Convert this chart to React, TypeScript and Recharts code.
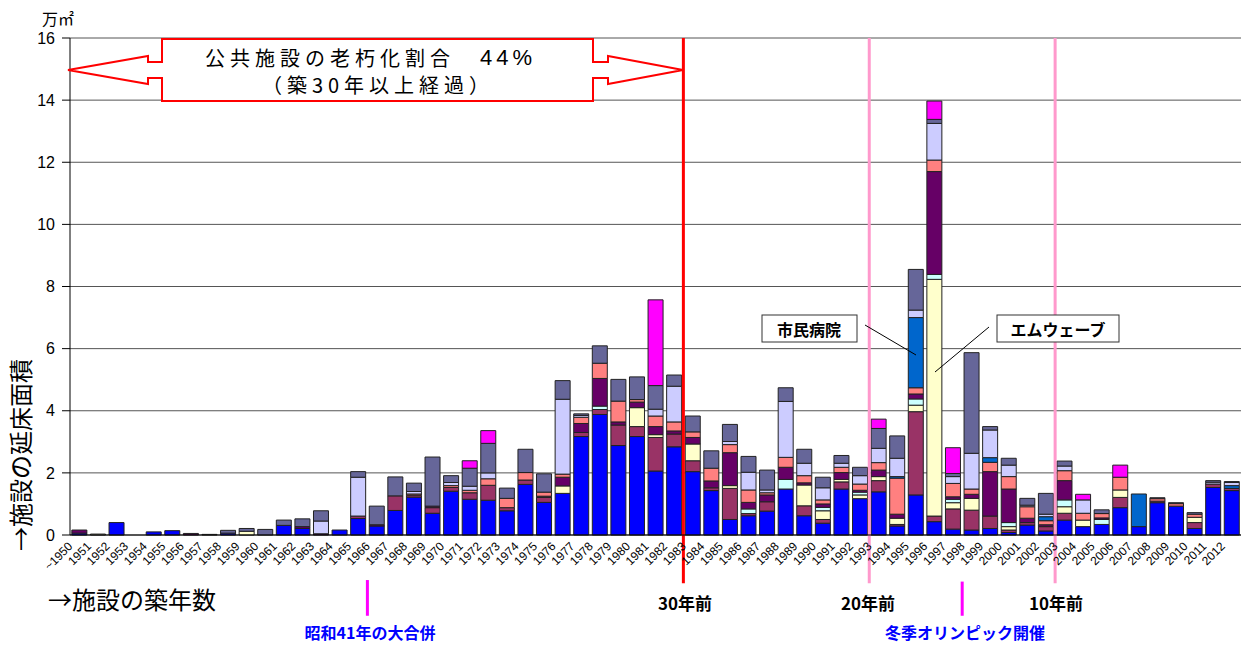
import React from 'react';
import { BarChart, Bar, XAxis, YAxis, CartesianGrid, ReferenceLine } from 'recharts';

const years = [
  '~1950', '1951', '1952', '1953', '1954', '1955', '1956', '1957', '1958', '1959',
  '1960', '1961', '1962', '1963', '1964', '1965', '1966', '1967', '1968', '1969',
  '1970', '1971', '1972', '1973', '1974', '1975', '1976', '1977', '1978', '1979',
  '1980', '1981', '1982', '1983', '1984', '1985', '1986', '1987', '1988', '1989',
  '1990', '1991', '1992', '1993', '1994', '1995', '1996', '1997', '1998', '1999',
  '2000', '2001', '2002', '2003', '2004', '2005', '2006', '2007', '2008', '2009',
  '2010', '2011', '2012',
];

// 万㎡, stacked bottom -> top
const blue = [
  .06, 0, .4, 0, .1, .14, 0, 0, .06, 0,
  0, .31, .21, 0, .16, .53, .29, .79, 1.22, .7,
  1.41, 1.15, 1.12, .78, 1.63, 1.05, 1.34, 3.17, 3.88, 2.88,
  3.17, 2.06, 2.84, 2.04, 1.43, .5, .62, .77, 1.48, .62,
  .38, 1.48, 1.17, 1.39, .29, 1.29, .43, .19, .16, .21,
  .08, .32, .13, .48, .27, .34, .88, .27, 1.04, .93,
  .21, 1.53, 1.43,
];
const maroon = [
  0, 0, 0, 0, 0, 0, 0, 0, 0, 0,
  0, 0, 0, 0, 0, .08, 0, .47, .06, .18,
  .12, .21, .48, .1, .14, .16, 0, .13, .16, .66,
  .32, 1.08, .41, .35, .09, 1.0, .07, .3, 0, .32,
  .12, .23, 0, .36, .05, 2.68, .18, .65, .64, .4,
  .08, .08, .14, .22, 0, 0, .33, 0, .05, 0,
  .19, .11, .07,
];
const cream = [
  0, .03, 0, 0, 0, 0, 0, .02, 0, .12,
  0, 0, 0, 0, 0, 0, 0, 0, 0, 0,
  0, 0, 0, 0, 0, 0, .24, 0, 0, 0,
  .61, .09, 0, .54, 0, .09, 0, 0, 0, .67,
  .28, .08, .12, .13, .2, .21, 7.62, .2, .38, 0,
  .11, 0, 0, .21, .21, 0, .24, 0, 0, 0,
  .17, 0, 0,
];
const cyan = [
  0, 0, 0, 0, 0, 0, 0, 0, 0, 0,
  0, 0, 0, 0, 0, 0, 0, 0, 0, 0,
  0, 0, 0, 0, 0, 0, 0, 0, .11, 0,
  0, 0, 0, 0, 0, 0, .15, 0, .31, 0,
  .11, 0, .09, 0, 0, .2, .16, .11, 0, 0,
  .13, 0, 0, .22, 0, .16, 0, 0, 0, 0,
  0, 0, 0,
];
const purple = [
  .1, 0, 0, 0, 0, 0, .05, 0, 0, 0,
  0, 0, .06, .04, 0, 0, .04, 0, 0, .05,
  0, 0, 0, 0, 0, .04, .28, .29, .89, .1,
  .18, .26, .1, .21, .22, 1.06, .21, .22, .39, .07,
  .11, .22, .06, .21, .13, .16, 3.31, .08, .13, 1.43,
  1.08, .14, .06, .62, 0, .05, 0, 0, 0, 0,
  0, 0, 0,
];
const salmon = [
  0, 0, 0, 0, 0, 0, 0, 0, 0, 0,
  0, 0, 0, 0, 0, 0, 0, 0, .04, 0,
  .06, .08, .21, .3, .24, .13, .1, .2, .49, .67,
  .08, .34, .29, .18, .41, .26, .4, .07, .32, .23,
  .13, .17, .2, .24, 1.16, .2, .37, .43, .17, .3,
  .4, .37, .13, .32, .22, .14, .41, 0, .08, .08,
  .1, 0, 0,
];
const midBlue = [
  0, 0, 0, 0, 0, 0, 0, 0, 0, 0,
  0, 0, 0, 0, 0, 0, 0, 0, 0, 0,
  0, 0, 0, 0, 0, 0, 0, 0, 0, 0,
  0, 0, 0, 0, 0, 0, 0, 0, 0, 0,
  0, 0, 0, 0, .05, 2.26, 0, 0, 0, .15,
  0, 0, .13, 0, 0, 0, 0, 1.05, 0, 0,
  0, 0, .09,
];
const lavender = [
  0, 0, 0, 0, 0, 0, 0, 0, 0, 0,
  0, 0, 0, .41, 0, 1.25, 0, 0, .08, 0,
  .1, .13, .19, 0, 0, 0, 2.41, .06, 0, 0,
  0, .22, 1.15, 0, 0, .1, .57, .09, 1.8, .4,
  .39, .13, .27, .46, .59, .24, 1.18, .22, 1.15, .89,
  .37, .05, .08, .15, .43, 0, 0, 0, 0, 0,
  0, .06, .1,
];
const slate = [
  0, 0, 0, 0, 0, 0, 0, 0, .09, .09,
  .18, .17, .25, .33, 0, .18, .6, .61, .27, 1.58,
  .22, .58, .95, .33, .75, .59, .6, .05, .56, .7,
  .73, .76, .36, .51, .56, .55, .51, .64, .44, .45,
  .34, .25, .27, .64, .72, 1.31, .13, .1, 3.24, .11,
  .22, .22, .67, .16, 0, .12, 0, 0, .03, .03,
  .05, .05, .03,
];
const magenta = [
  0, 0, 0, 0, 0, 0, 0, 0, 0, 0,
  0, 0, 0, 0, 0, 0, 0, 0, 0, 0,
  0, .24, .41, 0, 0, 0, 0, 0, 0, 0,
  0, 2.76, 0, 0, 0, 0, 0, 0, 0, 0,
  0, 0, 0, .3, 0, 0, .59, .83, 0, 0,
  0, 0, 0, 0, .18, 0, .39, 0, 0, 0,
  0, 0, 0,
];

const yTicks = [0, 2, 4, 6, 8, 10, 12, 14, 16];

const series = [
  { key: 'blue', data: blue, color: '#0000FF' },
  { key: 'maroon', data: maroon, color: '#993366' },
  { key: 'cream', data: cream, color: '#FFFFCC' },
  { key: 'cyan', data: cyan, color: '#CCFFFF' },
  { key: 'purple', data: purple, color: '#660066' },
  { key: 'salmon', data: salmon, color: '#FF8080' },
  { key: 'midBlue', data: midBlue, color: '#0066CC' },
  { key: 'lavender', data: lavender, color: '#CCCCFF' },
  { key: 'slate', data: slate, color: '#666699' },
  { key: 'magenta', data: magenta, color: '#FF00FF' },
];

const rows = years.map((year, i) => {
  const row: Record<string, string | number> = { year };
  series.forEach((s) => { row[s.key] = s.data[i]; });
  return row;
});

const NUM = '"Liberation Sans", Arial, sans-serif';
const JP = '"Noto Sans CJK JP", sans-serif';

const YearTick = (props: any) => {
  const { x, y, payload } = props;
  const ax = x - 6;
  const ay = y + 4;
  return (
    <text x={ax} y={ay} transform={`rotate(-45 ${ax} ${ay})`} textAnchor="end"
      fontSize={12} fontFamily={NUM} fill="#000">
      {payload.value}
    </text>
  );
};

export default function App() {
  return (
    <div style={{ position: 'absolute', left: 0, top: 0, width: 1242, height: 646, background: '#fff' }}>
      <BarChart width={1242} height={646} data={rows}
        margin={{ top: 38, right: 1, left: 0, bottom: 71 }}>
        <CartesianGrid horizontal vertical={false} stroke="#555" />
        <XAxis dataKey="year" interval={0} height={40} tick={<YearTick />}
          tickLine={false} axisLine={{ stroke: '#000' }} />
        <YAxis domain={[0, 16]} ticks={yTicks} width={70} tickSize={8} tickMargin={7}
          axisLine={{ stroke: '#000' }} tickLine={{ stroke: '#000' }}
          tick={{ fontSize: 16, fontFamily: NUM, fill: '#000' }} />
        {series.map((s) => (
          <Bar key={s.key} dataKey={s.key} stackId="a" fill={s.color}
            stroke="#222" strokeWidth={1} isAnimationActive={false} />
        ))}
        <ReferenceLine segment={[{ x: '1983', y: 16 }, { x: '1983', y: -1.55 }]} position="start"
          stroke="#FF0000" strokeWidth={3} ifOverflow="visible" />
        <ReferenceLine segment={[{ x: '1993', y: 16 }, { x: '1993', y: -1.55 }]} position="start"
          stroke="#FF99CC" strokeWidth={3} ifOverflow="visible" />
        <ReferenceLine segment={[{ x: '2003', y: 16 }, { x: '2003', y: -1.55 }]} position="start"
          stroke="#FF99CC" strokeWidth={3} ifOverflow="visible" />
        <ReferenceLine segment={[{ x: '1966', y: -1.45 }, { x: '1966', y: -2.6 }]} position="start"
          stroke="#FF00FF" strokeWidth={3} ifOverflow="visible" />
        <ReferenceLine segment={[{ x: '1998', y: -1.5 }, { x: '1998', y: -2.6 }]} position="start"
          stroke="#FF00FF" strokeWidth={3} ifOverflow="visible" />
      </BarChart>

      <svg width={1242} height={646} style={{ position: 'absolute', left: 0, top: 0, pointerEvents: 'none' }}>
        <text x={42} y={18} fontFamily={JP} fontSize={16} dominantBaseline="central">万㎡</text>
        <text x={19} y={455} transform="rotate(-90 19 455)" textAnchor="middle" dominantBaseline="central"
          fontFamily={JP} fontSize={24}>→施設の延床面積</text>
        <text x={48} y={598} dominantBaseline="central" fontFamily={JP} fontSize={24}>→施設の築年数</text>

        <polygon
          points="68,70 148,56 148,62 162,62 162,39 593,39 593,62 608,62 608,56 683,70 608,84 608,78 593,78 593,101 162,101 162,78 148,78 148,84"
          fill="#fff" stroke="#FF0000" strokeWidth={2} />
        <text x={205} y={57} dominantBaseline="central" fontFamily={JP} fontSize={20}
          letterSpacing={5}>公共施設の老朽化割合　<tspan fontFamily={NUM} fontSize={22} letterSpacing={4}>44%</tspan></text>
        <text x={378} y={84} textAnchor="middle" dominantBaseline="central" fontFamily={JP} fontSize={20}
          letterSpacing={5}>（築30年以上経過）</text>

        <text x={685} y={602} textAnchor="middle" dominantBaseline="central" fontFamily={JP} fontSize={17} fontWeight="bold">30年前</text>
        <text x={868} y={602} textAnchor="middle" dominantBaseline="central" fontFamily={JP} fontSize={17} fontWeight="bold">20年前</text>
        <text x={1056} y={602} textAnchor="middle" dominantBaseline="central" fontFamily={JP} fontSize={17} fontWeight="bold">10年前</text>
        <text x={370} y={632} textAnchor="middle" dominantBaseline="central" fontFamily={JP} fontSize={16} fontWeight="bold" fill="#0000FF">昭和41年の大合併</text>
        <text x={965} y={632} textAnchor="middle" dominantBaseline="central" fontFamily={JP} fontSize={16} fontWeight="bold" fill="#0000FF">冬季オリンピック開催</text>

        <line x1={865} y1={325} x2={916} y2={355} stroke="#000" strokeWidth={1} />
        <rect x={762} y={315} width={95} height={27} fill="#fff" stroke="#333" strokeWidth={1} />
        <text x={809} y={329} textAnchor="middle" dominantBaseline="central" fontFamily={JP} fontSize={16} fontWeight="bold">市民病院</text>
        <line x1={989} y1={327} x2={935} y2={372} stroke="#000" strokeWidth={1} />
        <rect x={997} y={315} width={122} height={27} fill="#fff" stroke="#333" strokeWidth={1} />
        <text x={1058} y={329} textAnchor="middle" dominantBaseline="central" fontFamily={JP} fontSize={16} fontWeight="bold">エムウェーブ</text>
      </svg>
    </div>
  );
}
